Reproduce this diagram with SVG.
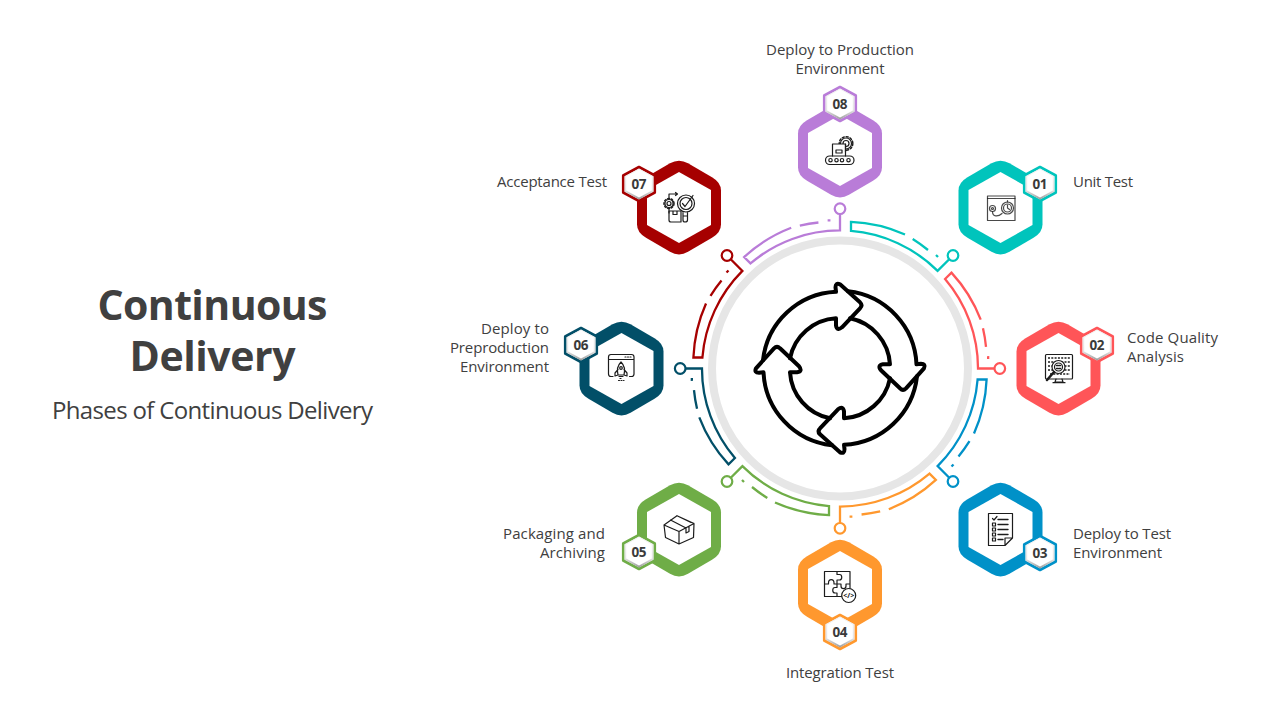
<svg xmlns="http://www.w3.org/2000/svg" width="1280" height="720" viewBox="0 0 1280 720">
<style>
text{font-family:"Open Sans","Noto Sans",sans-serif;fill:#404040}
.lb{font-size:15px}
.num{font-size:13.5px;font-weight:700;text-anchor:middle;fill:#3a3a3a}
.m{text-anchor:middle}.e{text-anchor:end}
.ho{fill:currentColor}
.hi{fill:#fff}
.bo{fill:#fff;stroke:currentColor;stroke-width:2.6;stroke-linejoin:round}
.conn{fill:none;stroke:currentColor;stroke-width:2.3}
.dot{fill:#fff;stroke:currentColor;stroke-width:2.2}
.ic{fill:none;stroke:#1c1c1c;stroke-width:1.2;stroke-linejoin:round;stroke-linecap:round}
.c1{color:#00C4BC}.c2{color:#FF5558}.c3{color:#0091C8}.c4{color:#FF982E}
.c5{color:#6FAD47}.c6{color:#024F68}.c7{color:#A60000}.c8{color:#B97CD8}
</style>
<defs>
<linearGradient id="bev" x1="0" y1="0" x2="0" y2="1"><stop offset="0" stop-color="#f2f2f2"/><stop offset="0.7" stop-color="#e4e4e4"/><stop offset="1" stop-color="#9a9a9a"/></linearGradient>
<g id="bighex">
<path class="ho" d="M-9-44.25Q0-49.5 9-44.25L33-30.25Q42-25 42-17V17Q42 25 33 30.25L9 44.25Q0 49.5-9 44.25L-33 30.25Q-42 25-42 17V-17Q-42-25-33-30.25Z"/>
<path class="hi" d="M0-35.5L32-17.5V17.5L0 35.5-32 17.5V-17.5Z"/>
</g>
<g id="badge">
<path class="bo" d="M0-17L15.8-8.500V8.500L0 17-15.800 8.500V-8.500Z"/>
<path fill="url(#bev)" d="M0-15.400L14.300-7.700V7.700L0 15.400-14.300 7.700V-7.700Z"/>
<path fill="#fff" d="M0-14.600L12.800-7.600V6.600L0 13.400-12.800 6.600V-7.600Z"/>
</g>
<g id="conn">
<path class="conn" d="M905 234.500A148 148 0 0 0 851 221.900V230.900A138 138 0 0 1 937.600 270.900L953 255.500"/>
<path class="conn" d="M912.700 239A148 148 0 0 1 928 250M936 255A148 148 0 0 1 938 257"/>
<circle class="dot" cx="953" cy="255.500" r="5.300"/>
</g>
<path id="cyc" fill="none" stroke="#000" stroke-width="4" stroke-linejoin="round" stroke-linecap="round" d="M-77-8A77 77 0 0 1-4-76.500L-4.500-81Q-4.500-86 0-84L20-66Q23-63 20-60L2-41Q-3-37-4-43L-4-50A50 50 0 0 0-50-10"/>
</defs>
<rect width="1280" height="720" fill="#fff"/>

<g id="title">
<text x="212.500" y="320" class="m" font-size="41" font-weight="700" textLength="230">Continuous</text>
<text x="212.500" y="371" class="m" font-size="41" font-weight="700" textLength="166">Delivery</text>
<text x="212.500" y="419" class="m" font-size="24" textLength="321">Phases of Continuous Delivery</text>
</g>

<g id="connectors">
<g class="c1"><use href="#conn"/></g>
<g class="c2" transform="rotate(45 840 368.500)"><use href="#conn"/></g>
<g class="c3" transform="rotate(90 840 368.500)"><use href="#conn"/></g>
<g class="c4" transform="rotate(135 840 368.500)"><use href="#conn"/></g>
<g class="c5" transform="rotate(180 840 368.500)"><use href="#conn"/></g>
<g class="c6" transform="rotate(225 840 368.500)"><use href="#conn"/></g>
<g class="c7" transform="rotate(270 840 368.500)"><use href="#conn"/></g>
<g class="c8" transform="rotate(315 840 368.500)"><use href="#conn"/></g>
</g>

<g id="hub">
<circle cx="840" cy="368.500" r="128" fill="#fff" stroke="#E6E6E6" stroke-width="8"/>
<g transform="translate(840 368.300)">
<use href="#cyc"/>
<use href="#cyc" transform="rotate(90)"/>
<use href="#cyc" transform="rotate(180)"/>
<use href="#cyc" transform="rotate(270)"/>
</g>
</g>

<g id="node-01" class="c1">
<use href="#bighex" x="1000.500" y="207.500"/>
<g class="ic" stroke-opacity="0.8"><rect x="987.500" y="196" width="27.500" height="24.500"/><path d="M987.500 198.500H1015M992.500 211.500C992.500 217 998 217 1002 213.500"/><circle cx="992.500" cy="208.500" r="3"/><circle cx="992.500" cy="208.500" r="1"/><circle cx="1007.500" cy="208" r="6"/><circle cx="1007.500" cy="208" r="4"/><path d="M1007.500 202V200.500M1007.500 205V208L1009.500 209.500"/></g>
<use href="#badge" x="1040" y="184"/>
<text x="1040" y="189" class="num" textLength="15">01</text>
<text x="1073" y="187" class="lb" textLength="60">Unit Test</text>
</g>

<g id="node-02" class="c2">
<use href="#bighex" x="1058.500" y="368.500"/>
<g class="ic"><rect x="1045.500" y="354.500" width="27" height="24.500" rx="1"/><path d="M1056 379L1055 382H1063L1062 379M1053 382.700H1065"/>
<path stroke-width="1.700" stroke-linecap="butt" stroke-dasharray="2 1.300" d="M1048 358H1070M1048 362H1070M1048 366H1070M1048 370H1070M1050 374H1070"/>
<circle cx="1058.500" cy="367" r="6.500" fill="#fff"/><circle cx="1058.500" cy="367" r="4"/><path stroke-width="1.500" stroke-dasharray="1.500 1" d="M1056.500 365.500H1061M1056.500 368.500H1061"/><path stroke-width="2.500" d="M1054 372L1047 380"/></g>
<use href="#badge" x="1097" y="345"/>
<text x="1097" y="350" class="num" textLength="15">02</text>
<text x="1127" y="343" class="lb" textLength="91">Code Quality</text>
<text x="1127" y="362" class="lb" textLength="57">Analysis</text>
</g>

<g id="node-03" class="c3">
<use href="#bighex" x="1000.500" y="529.500"/>
<g class="ic"><path d="M988.500 513.500H1012.500V538L1005 545.500H988.500ZM1012.500 538H1005V545.500"/>
<path stroke-width="1.400" d="M998 519.500H1008M998 524.500H1008M998 529.500H1008M998 534.500H1008M998 539.500H1003"/>
<rect x="992.500" y="523" width="3" height="3"/><rect x="992.500" y="528" width="3" height="3"/><rect x="992.500" y="533" width="3" height="3"/><rect x="992.500" y="538" width="3" height="3"/><path d="M992.500 518.500L994 520L997 516.500"/></g>
<use href="#badge" x="1040" y="553"/>
<text x="1040" y="558" class="num" textLength="15">03</text>
<text x="1073" y="539" class="lb" textLength="98">Deploy to Test</text>
<text x="1073" y="558" class="lb" textLength="89">Environment</text>
</g>

<g id="node-04" class="c4">
<use href="#bighex" x="840" y="586.500"/>
<g class="ic"><path d="M824.500 571.500H850V589M824.500 571.500V596.500H842M837 571.500V574.500H839.500C842.500 574.500 842.500 580 839.500 580H837V587.500H835C832 587.500 832 593 835 593H837V596.500M824.500 584H828.500V583C828.500 578.500 834 578.500 834 583V584H841V586C841 589.500 846 589.500 846 586V584H850"/>
<circle cx="848.700" cy="595.500" r="7" fill="#fff"/></g>
<text x="848.700" y="598" class="m" font-size="7" font-weight="700" style="fill:#111">&lt;/&gt;</text>
<use href="#badge" x="840" y="632"/>
<text x="840" y="637" class="num" textLength="15">04</text>
<text x="840" y="678" class="m lb" textLength="108">Integration Test</text>
</g>

<g id="node-05" class="c5">
<use href="#bighex" x="679" y="529.500"/>
<g class="ic"><path d="M664 525L677 515.700L694 523.500L693.500 537.500L679 544L665.500 537.500ZM664 525L679 531.500L694 523.500M679 531.500V544M670.500 520L686 528M677 515.700L691 522.500M686 528V533L689 531.500V526"/></g>
<use href="#badge" x="639" y="552"/>
<text x="639" y="557" class="num" textLength="15">05</text>
<text x="605" y="539" class="e lb" textLength="102">Packaging and</text>
<text x="605" y="558" class="e lb" textLength="65">Archiving</text>
</g>

<g id="node-06" class="c6">
<use href="#bighex" x="621.500" y="368.500"/>
<g class="ic" stroke-width="1.300"><path d="M613 376.500H611Q608.500 376.500 608.500 374V357Q608.500 354.500 611 354.500H631.500Q634 354.500 634 357V374Q634 376.500 631.500 376.500H629.500M608.500 359.500H634"/>
<path stroke-dasharray="1 1.500" d="M625 357H632"/>
<path d="M621 362C617.500 365.500 617 371 618 375H624C625 371 624.500 365.500 621 362ZM618 369.500L615 373V376L618 375M624 369.500L627 373V376L624 375M619 376.500H623"/><circle cx="621" cy="368" r="1.300"/><path stroke-dasharray="1 1.500" d="M618.500 380.500H624M620 378.500H622.500"/></g>
<use href="#badge" x="581" y="345"/>
<text x="581" y="350" class="num" textLength="15">06</text>
<text x="549" y="334" class="e lb" textLength="68">Deploy to</text>
<text x="549" y="353" class="e lb" textLength="99">Preproduction</text>
<text x="549" y="372" class="e lb" textLength="89">Environment</text>
</g>

<g id="node-07" class="c7">
<use href="#bighex" x="679" y="207.500"/>
<g class="ic"><circle cx="669" cy="203.500" r="2"/><circle cx="669" cy="203.500" r="4"/><circle cx="669" cy="203.500" r="5" stroke-width="1.500" stroke-dasharray="1.800 1.800"/>
<path d="M669 198V194H677M675.500 192.500L677.500 194L675.500 195.500M669 209V213"/>
<circle cx="686" cy="203.500" r="8.500" fill="#fff"/><circle cx="686" cy="203.500" r="6"/><path d="M682.500 203.500L685 206.500L693 195.500"/>
<path d="M683 212.500V220Q683 222 685 222Q687.500 222 687.500 220V212.500M683 216H687.500"/>
<path d="M681 222H671Q669 222 669 220V211H681ZM673 211V214.500H677V211"/></g>
<use href="#badge" x="639" y="184"/>
<text x="639" y="189" class="num" textLength="15">07</text>
<text x="607" y="187" class="e lb" textLength="110">Acceptance Test</text>
</g>

<g id="node-08" class="c8">
<use href="#bighex" x="840" y="150.500"/>
<g class="ic"><circle cx="846" cy="143.500" r="3"/><circle cx="846" cy="143.500" r="5.500"/><circle cx="846" cy="143.500" r="6.800" stroke-width="1.500" stroke-dasharray="2 2"/>
<path fill="#fff" d="M832.500 156V144H845.500V156"/><path d="M836 150H842V153H836ZM845.500 144V152"/>
<rect x="825.500" y="156" width="28.500" height="8.500" rx="4.200"/>
<circle cx="830.500" cy="160.200" r="1.700"/><circle cx="836.500" cy="160.200" r="1.700"/><circle cx="842" cy="160.200" r="1.700"/><circle cx="848.500" cy="160.200" r="1.700"/></g>
<use href="#badge" x="840" y="104"/>
<text x="840" y="109" class="num" textLength="15">08</text>
<text x="840" y="55" class="m lb" textLength="148">Deploy to Production</text>
<text x="840" y="74" class="m lb" textLength="89">Environment</text>
</g>
</svg>
